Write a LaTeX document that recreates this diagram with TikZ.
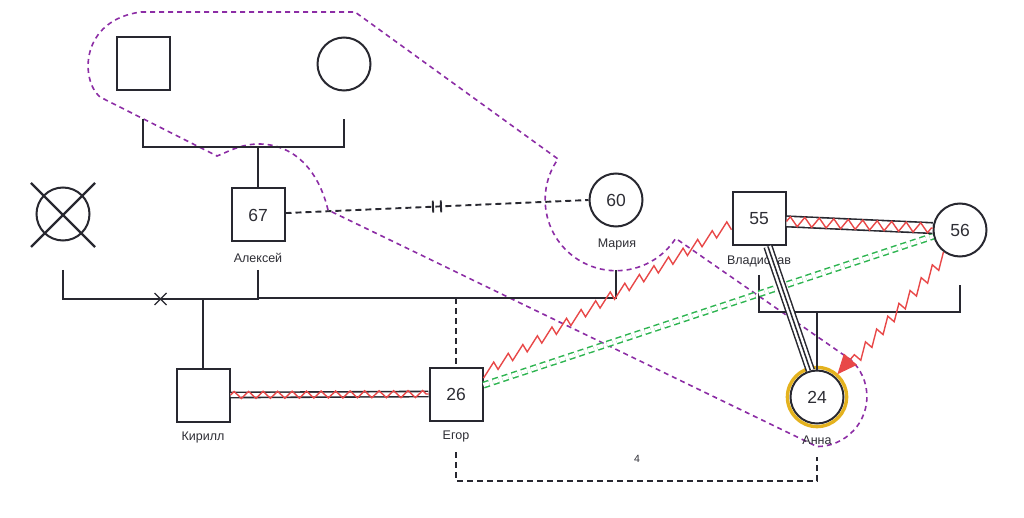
\documentclass[tikz,border=0pt]{standalone}
\usepackage{fontspec}
\setmainfont{Liberation Sans}
\usetikzlibrary{
  arrows.meta, positioning, calc,
  decorations.pathmorphing, decorations.markings
}
\definecolor{DK}{RGB}{40,40,48}
\definecolor{TX}{RGB}{45,45,52}
\definecolor{PU}{RGB}{140,45,165}
\definecolor{RD}{RGB}{232,72,72}
\definecolor{GR}{RGB}{45,180,80}
\definecolor{GD}{RGB}{228,178,30}

\begin{document}
\begin{tikzpicture}[x=1pt, y=-1pt,
  male/.style={draw=DK, line width=2pt, minimum size=53pt, inner sep=0pt,
               font=\fontsize{17.5}{17.5}\selectfont, text=TX},
  female/.style={male, circle},
  pname/.style={font=\fontsize{12.5}{13}\selectfont, text=TX},
  rel/.style={draw=DK, line width=2pt},
  link/.style={draw=DK, line width=1.9pt, dash pattern=on 6pt off 4pt},
  hostile/.style={draw=DK, line width=1.6pt, double=white, double distance=#1},
  zig/.style={draw=RD, line width=1.4pt, decorate,
              decoration={zigzag, segment length=14.5pt, amplitude=#1}},
  sawline/.style={draw=RD, line width=1.4pt, decorate,
                  decoration={saw, segment length=17pt, amplitude=8.5pt}},
  greenrel/.style={draw=GR, line width=1.5pt, double=white, double distance=4pt,
                   dash pattern=on 6pt off 4pt},
  triple/.style={draw=DK, line width=1.5pt, double=white, double distance=6.4pt},
  grp/.style={draw=PU, line width=1.6pt, dash pattern=on 5pt off 4pt},
  cut/.style={postaction={decorate, decoration={markings,
              mark=at position 0.5 with {\draw[solid, DK, line width=1.9pt]
                (-4pt,-6pt) -- (-4pt,6pt) (4pt,-6pt) -- (4pt,6pt);}}}},
  divorce/.style={postaction={decorate, decoration={markings,
              mark=at position 0.5 with {\draw[solid, DK, line width=1.4pt]
                (-6pt,-6pt) -- (6pt,6pt) (-6pt,6pt) -- (6pt,-6pt);}}}}
]
\useasboundingbox (0,0) rectangle (1024,518);

% group outline
\draw[grp] (141,12) -- (355,12) -- (558,159)
  arc[start angle=215, end angle=33, radius=71] -- (851,360)
  arc[start angle=-47, end angle=90, radius=50] -- (328,210)
  .. controls (318,168) and (292,144) .. (259,144)
  .. controls (240,144) and (228,152) .. (217,156) -- (100,97)
  .. controls (80,80) and (80,20) .. (141,12) -- cycle;

% people
\node[male]   (father) at (143,64)  {};
\node[female] (mother) at (344,64)  {};
\node[male]   (alexey) at (258,215) {67};
\node[female] (dec)    at (63,214)  {};
\node[female] (maria)  at (616,200) {60};
\node[male]   (kirill) at (203,395) {};
\node[male]   (egor)   at (456,394) {26};
\node[male]   (vlad)   at (759,219) {55};
\node[female] (w56)    at (960,230) {56};
\node[female] (anna)   at (817,397) {24};
\draw[GD, line width=3.4pt] (anna.center) circle[radius=29.6];

\draw[rel, line width=2.4pt] ($(dec.center)+(-32,-31)$) -- ($(dec.center)+(32,33)$);
\draw[rel, line width=2.4pt] ($(dec.center)+(32,-31)$) -- ($(dec.center)+(-32,33)$);

\node[pname] (alexey-l) at (258,258) {Алексей};
\node[pname] (maria-l)  at (617,244) {Мария};
\node[pname] (kirill-l) at (203,437) {Кирилл};
\node[pname] (egor-l)   at (456,436) {Егор};
\node[pname] (vlad-l)   at (759,261) {Владислав};
\node[pname] (anna-l)   at (817,440) {Анна};

% couple lines
\coordinate (pf) at (143,119);
\coordinate (pm) at (344,119);
\coordinate (pc) at (258,147);
\draw[rel] (pf) -- ++(0,28) -| (pm);
\draw[rel] (pc) -- (alexey);

\coordinate (da) at (63,270);
\coordinate (ad) at (258,270);
\coordinate (am) at (616,270);
\coordinate (kc) at (203,299);
\coordinate (ec) at (456,298);
\draw[rel, divorce] (da) -- ++(0,29) -| (ad);
\draw[rel] (ad) -- ++(0,28) -| (am);
\draw[rel] (kc) -- (kirill);
\draw[link] (ec) -- (egor);

\coordinate (vw) at (759,275);
\coordinate (wv) at (960,285);
\coordinate (ac) at (817,312);
\draw[rel] (vw) -- ++(0,37) -| (wv);
\draw[rel] (ac) -- (anna);

\draw[link, cut] (alexey.4) -- (maria.west);

% relations
\draw[greenrel] (egor.18) -- (w56.193);
\draw[sawline] (egor.30) -- (vlad.200);
\draw[hostile=3.6pt] (kirill.east) -- (egor.west);
\draw[zig=3.5pt] (kirill.east) -- (egor.west);
\draw[hostile=9pt] (vlad.-5) -- (w56.176);
\draw[zig=4.8pt] (vlad.-5) -- (w56.176);
\draw[triple] (vlad.-72) -- (anna.104);
\draw[DK, line width=1.5pt] (vlad.-72) -- (anna.104);
\draw[sawline, decoration={post length=24pt},
      -{Triangle[length=20pt, width=17pt, fill=RD]}, shorten >=3pt]
  (w56.233) -- (anna.48);

% distance
\coordinate (eb) at (456,452);
\coordinate (ab) at (817,457);
\draw[link] (eb) -- ++(0,29) -| (ab);
\node[font=\fontsize{10.5}{10.5}\selectfont, text=TX] (dist) at (637,459) {4};
\end{tikzpicture}
\end{document}
